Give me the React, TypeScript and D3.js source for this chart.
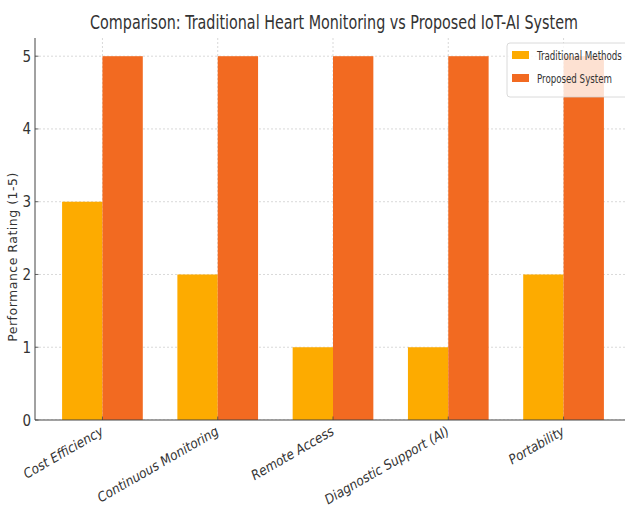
import React, { useLayoutEffect, useRef, useState } from "react";
import * as d3 from "d3";

const categories = ["Cost Efficiency", "Continuous Monitoring", "Remote Access", "Diagnostic Support (AI)", "Portability"];
const traditional = [3, 2, 1, 1, 2];
const proposed = [5, 5, 5, 5, 5];
const yTicks = [0, 1, 2, 3, 4, 5];
const seriesNames = ["Traditional Methods", "Proposed System"];
const colors = ["#FDAB00", "#F26A21"];

const W = 625, H = 510;
const left = 35, right = 631, top = 38, bottom = 420;
const barW = 0.35;
const FONT = "'DejaVu Sans', sans-serif";
const CONDENSED = "'DejaVu Sans Condensed', 'DejaVu Sans', sans-serif";

function FitText({ x, y, width, anchor, fontSize, children }: { x: number; y: number; width: number; anchor: "start" | "middle"; fontSize: number; children: string }) {
  const ref = useRef<SVGTextElement>(null);
  const [sx, setSx] = useState(1);
  useLayoutEffect(() => {
    if (ref.current) {
      const w = ref.current.getComputedTextLength();
      if (w > 0) setSx(width / w);
    }
  }, [width, children]);
  return (
    <text ref={ref} transform={`translate(${x},${y}) scale(${sx},1)`} textAnchor={anchor} fontFamily={CONDENSED} fontSize={fontSize} fill="#333">
      {children}
    </text>
  );
}

export default function App() {
  const x = d3.scaleLinear().domain([-0.585, categories.length - 1 + 0.585]).range([left, right]);
  const y = d3.scaleLinear().domain([0, 5.25]).range([bottom, top]);
  return (
    <svg width={W} height={H} style={{ position: "absolute", left: 0, top: 0, background: "#fff" }}>
      <defs>
        <clipPath id="plot"><rect x={left} y={top} width={right - left} height={bottom - top} /></clipPath>
      </defs>
      <FitText x={334} y={29} width={488} anchor="middle" fontSize={20}>
        Comparison: Traditional Heart Monitoring vs Proposed IoT-AI System
      </FitText>
      <g clipPath="url(#plot)">
        {yTicks.map((t) => (
          <line key={"gy" + t} x1={left} x2={right} y1={y(t)} y2={y(t)} stroke="#cfcfcf" strokeWidth={0.8} strokeDasharray="2,2" />
        ))}
        {categories.map((c, i) => (
          <line key={"gx" + i} x1={x(i)} x2={x(i)} y1={top} y2={bottom} stroke="#cfcfcf" strokeWidth={0.8} strokeDasharray="2,2" />
        ))}
        {traditional.map((v, i) => (
          <rect key={"t" + i} x={x(i - barW)} y={y(v)} width={x(i) - x(i - barW)} height={y(0) - y(v)} fill={colors[0]} />
        ))}
        {proposed.map((v, i) => (
          <rect key={"p" + i} x={x(i)} y={y(v)} width={x(i + barW) - x(i)} height={y(0) - y(v)} fill={colors[1]} />
        ))}
      </g>
      <line x1={left} x2={left} y1={top} y2={bottom} stroke="#444" strokeWidth={1} />
      <line x1={left} x2={right} y1={bottom} y2={bottom} stroke="#444" strokeWidth={1} />
      {yTicks.map((t) => (
        <g key={"yt" + t}>
          <line x1={left} x2={left + 3.5} y1={y(t)} y2={y(t)} stroke="#444" strokeWidth={0.8} />
          <text x={left - 4} y={y(t) + 5.5} textAnchor="end" fontFamily={CONDENSED} fontSize={15} fill="#333">{t}</text>
        </g>
      ))}
      {categories.map((c, i) => (
        <g key={"xt" + i}>
          <line x1={x(i)} x2={x(i)} y1={bottom} y2={bottom - 3.5} stroke="#444" strokeWidth={0.8} />
          <text transform={`translate(${x(i) + 2},${bottom + 14}) rotate(-30)`} textAnchor="end" fontFamily={CONDENSED} fontStyle="italic" fontSize={13.5} fill="#333">{c}</text>
        </g>
      ))}
      <text transform={`translate(17,257) rotate(-90)`} textAnchor="middle" fontFamily={FONT} fontSize={12.5} fill="#333" letterSpacing={0.5}>
        Performance Rating (1-5)
      </text>
      <g>
        <rect x={507} y={43} width={130} height={54} rx={3} fill="#fff" fillOpacity={0.8} stroke="#d0d0d0" strokeWidth={0.8} />
        {seriesNames.map((s, i) => (
          <g key={"lg" + i}>
            <rect x={512} y={51 + i * 23} width={17} height={8} fill={colors[i]} />
            <FitText x={537} y={60 + i * 23} width={i === 0 ? 85 : 75} anchor="start" fontSize={12.5}>{s}</FitText>
          </g>
        ))}
      </g>
    </svg>
  );
}
